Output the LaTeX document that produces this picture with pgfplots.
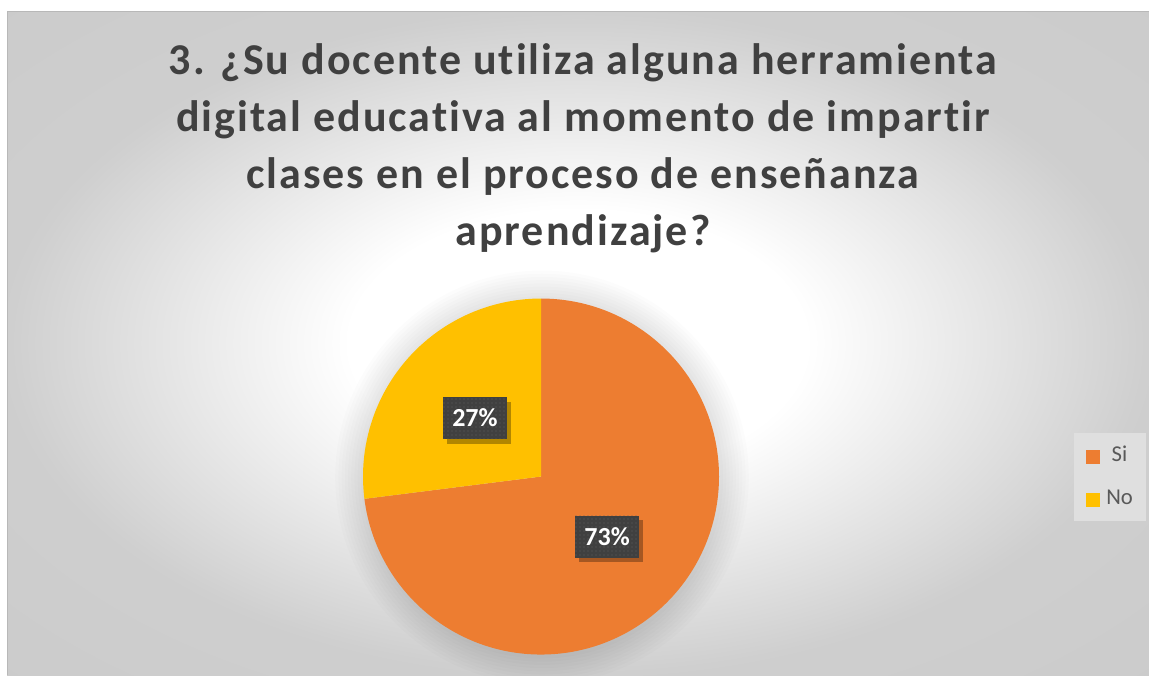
\documentclass[border=0pt]{standalone}
\usepackage{pgfplots}
\pgfplotsset{compat=1.18}
\usepackage{pgfplotstable}
\usepackage{fontspec}
\setmainfont[Ligatures=NoCommon]{Carlito}
\newfontfamily\titlefont[Ligatures=NoCommon, LetterSpace=4.5]{Carlito}
\usetikzlibrary{patterns,shadows}
\definecolor{siorange}{HTML}{ED7D31}
\definecolor{noyellow}{HTML}{FFC000}
\definecolor{titlegray}{HTML}{404040}
\definecolor{labelbg}{HTML}{404040}
\definecolor{legbg}{HTML}{DFDFDF}
\definecolor{legtext}{HTML}{595959}
\pgfdeclareradialshading{bgshade}{\pgfpoint{0bp}{0bp}}{color(0bp)=(white); color(10bp)=(white); color(25bp)=(black!19); color(50bp)=(black!22)}

\pgfplotstableread{
label value
Si 73
No 27
}\piedata

\begin{document}
\begin{tikzpicture}
\path[use as bounding box] (0,0) rectangle (861.75pt,-506.25pt);
\fill[white] (0,0) rectangle (861.75pt,-506.25pt);
\shade[shading=bgshade] (5.25pt,-8.25pt) rectangle (861.75pt,-506.25pt);
\draw[black!28, line width=0.5pt] (5.25pt,-506.25pt) -- (5.25pt,-8.25pt) -- (861.75pt,-8.25pt);
% title
\begin{scope}[every node/.style={anchor=base, text=titlegray, font=\titlefont\fontsize{33pt}{38pt}\selectfont\bfseries, inner sep=0pt}]
\node at (437.25pt,-55.7pt) {3. ¿Su docente utiliza alguna herramienta};
\node at (437.25pt,-98.45pt) {digital educativa al momento de impartir};
\node at (437.25pt,-141.2pt) {clases en el proceso de enseñanza};
\node at (437.25pt,-183.95pt) {aprendizaje?};
\end{scope}
% soft glow around the pie
\foreach \r in {1,...,9}{
  \fill[black, opacity=0.013] (406.5pt,-358pt) circle[radius={133.5pt+\r*2.4pt}];
}
\pgfplotstablegetelem{0}{value}\of\piedata \let\vSi\pgfplotsretval
\pgfplotstablegetelem{1}{value}\of\piedata \let\vNo\pgfplotsretval
\pgfmathsetmacro\angSi{90-3.6*\vSi}
\pgfmathsetmacro\angSiB{\angSi+360}
\begin{axis}[
  at={(405.75pt,-357.4pt)}, anchor=center,
  scale only axis, width=267pt, height=267pt,
  xmin=-1, xmax=1, ymin=-1, ymax=1,
  hide axis, clip=false,
  legend style={at={(2.097,0.499)}, anchor=center, fill=legbg, draw=none,
    font=\fontsize{17pt}{19pt}\selectfont, text=legtext,
    inner xsep=9.5pt, inner ysep=10.5pt,
    row sep=19pt, column sep=4.5pt,
    nodes={inner sep=0pt, text height=11pt, text depth=0pt}},
  legend image code/.code={\fill[#1] (0pt,-7.5pt) rectangle (10.5pt,3pt);},
]
\addlegendimage{fill=siorange, draw=none}
\addlegendentry{Si}
\addlegendimage{fill=noyellow, draw=none}
\addlegendentry{No}
\fill[siorange] (axis cs:0,0) -- (axis cs:0,1) arc[start angle=90, end angle=\angSi, radius=133.5pt] -- cycle;
\fill[noyellow] (axis cs:0,0) -- (axis cs:{cos(\angSiB)},{sin(\angSiB)}) arc[start angle=\angSiB, end angle=90, radius=133.5pt] -- cycle;
\node[fill=labelbg, text=white, minimum width=48pt, minimum height=31.5pt, inner sep=0pt,
  font=\fontsize{19.5pt}{21pt}\selectfont\bfseries,
  drop shadow={shadow xshift=3pt, shadow yshift=-3.5pt, opacity=0.3, fill=black},
  postaction={pattern=dots, pattern color=black!62}]
  at (axis cs:-0.371,0.329) {\vNo\%};
\node[fill=labelbg, text=white, minimum width=48pt, minimum height=31.5pt, inner sep=0pt,
  font=\fontsize{19.5pt}{21pt}\selectfont\bfseries,
  drop shadow={shadow xshift=3pt, shadow yshift=-3.5pt, opacity=0.3, fill=black},
  postaction={pattern=dots, pattern color=black!62}]
  at (axis cs:0.371,-0.337) {\vSi\%};
\end{axis}
\end{tikzpicture}
\end{document}
